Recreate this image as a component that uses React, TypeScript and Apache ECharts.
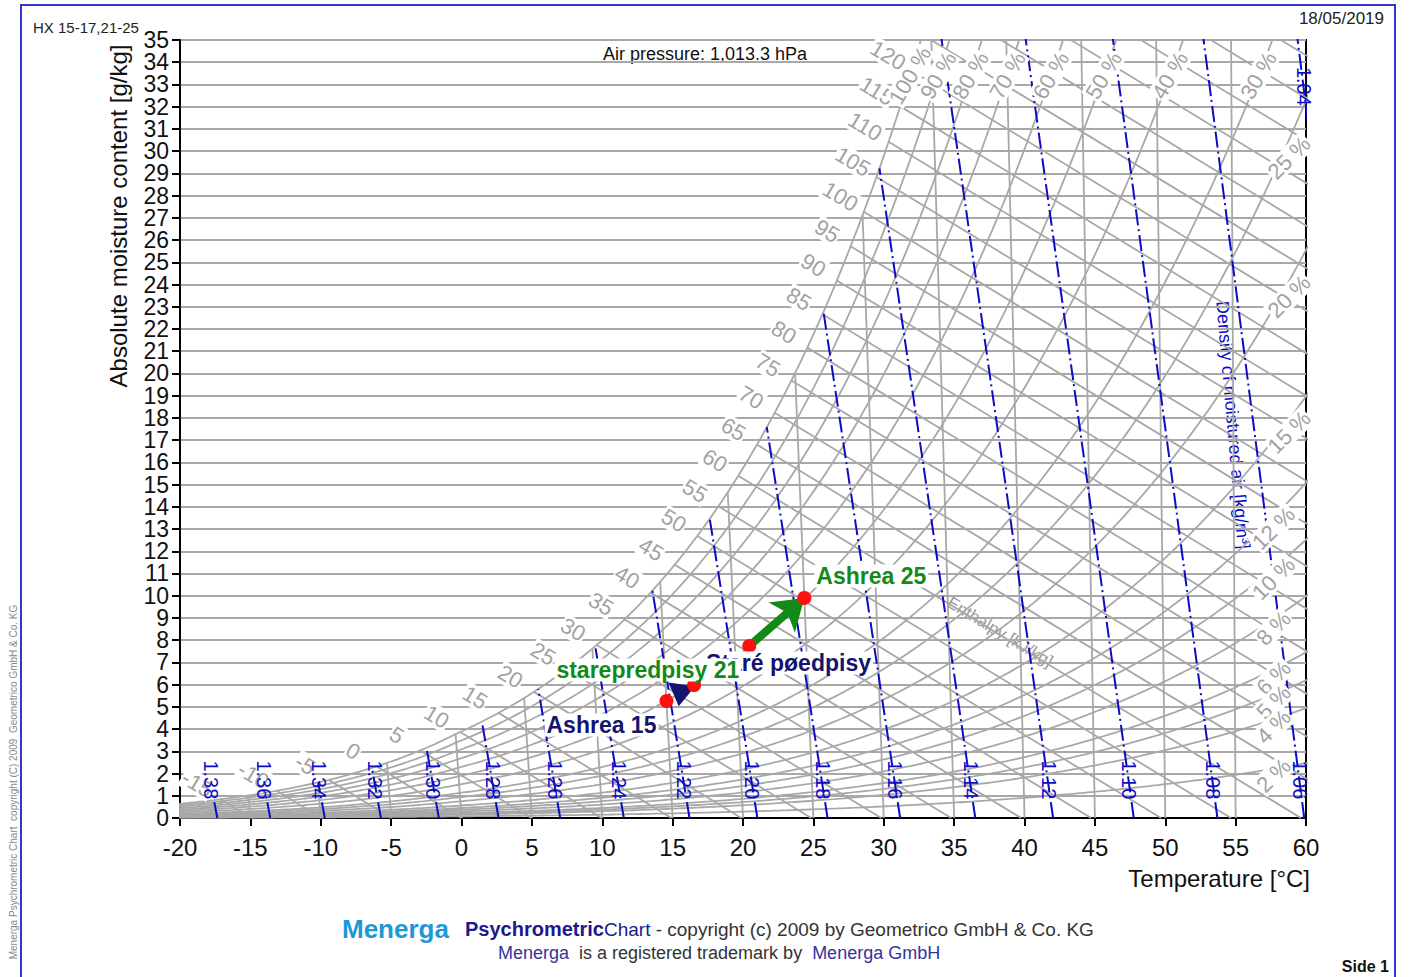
import React, { useEffect, useRef } from "react";
import * as echarts from "echarts";

// ---------------- chart data ----------------
const T_MIN = -20;
const T_MAX = 60;
const T_STEP = 5;
const X_MIN = 0;
const X_MAX = 35;
const X_STEP = 1;
const X_TICKS = [
  0, 1, 2, 3, 4, 5, 6, 7, 8, 9, 10, 11, 12, 13, 14, 15, 16, 17, 18, 19, 20, 21, 22, 23, 24, 25, 26, 27,
  28, 29, 30, 31, 32, 33, 34, 35,
];
const AIR_PRESSURE_HPA = 1013.3;

const RH_CURVES = [2, 4, 5, 6, 8, 10, 12, 15, 20, 25, 30, 40, 50, 60, 70, 80, 90, 100];
const RH_TOP_LABELS = [100, 90, 80, 70, 60, 50, 40, 30];
const RH_SIDE_LABELS = [25, 20, 15, 12, 10, 8, 6, 5, 4, 2];
const ISOTHERMS = [-15, -10, -5, 0, 5, 10, 15, 20, 25, 30, 35, 40, 45, 50, 55];
const ENTHALPY_LINES = [
  -15, -10, -5, 0, 5, 10, 15, 20, 25, 30, 35, 40, 45, 50, 55, 60, 65, 70, 75, 80, 85, 90, 95, 100,
  105, 110, 115, 120, 125, 130, 135, 140, 145, 150,
];
const ENTHALPY_LABELS = [
  -15, -10, -5, 0, 5, 10, 15, 20, 25, 30, 35, 40, 45, 50, 55, 60, 65, 70, 75, 80, 85, 90, 95, 100,
  105, 110, 115, 120,
];
const DENSITY_LINES = [
  1.38, 1.36, 1.34, 1.32, 1.3, 1.28, 1.26, 1.24, 1.22, 1.2, 1.18, 1.16, 1.14, 1.12, 1.1, 1.08, 1.06, 1.04,
];

const STATE_NAMES = ["Ashrea 15", "Staré pøedpisy", "starepredpisy 21", "Ashrea 25"];
const STATE_TEMPERATURES = [15, 17, 21, 25];
const STATE_MOISTURE = [5.26, 5.98, 7.74, 9.9];
const PROCESS_FROM = [1, 2];
const PROCESS_TO = [0, 3];

// ---------------- physics ----------------
const CPA = 1.006;
const CPV = 1.86;
const R0 = 2501;
const SKEW_T = 60; // isotherm drawn vertical in this Mollier-type chart
const RD = 287.05;

function pSat(t: number) {
  return t >= 0
    ? 6.112 * Math.exp((17.62 * t) / (243.12 + t))
    : 6.112 * Math.exp((22.46 * t) / (272.62 + t));
}
function moist(t: number, rh: number) {
  const pw = (rh / 100) * pSat(t);
  return (622 * pw) / (AIR_PRESSURE_HPA - pw);
}
function chartX(t: number, xg: number) {
  return t + ((xg / 1000) * CPV * (t - SKEW_T)) / CPA;
}
function enth(t: number, xg: number) {
  const x = xg / 1000;
  return CPA * t + x * (R0 + CPV * t);
}
function bisect(f: (v: number) => number, a: number, b: number) {
  let fa = f(a);
  for (let i = 0; i < 70; i++) {
    const m = (a + b) / 2;
    const fm = f(m);
    if (fm > 0 === fa > 0) {
      a = m;
      fa = fm;
    } else b = m;
  }
  return (a + b) / 2;
}
function satForEnthalpy(h: number) {
  const t = bisect((v) => enth(v, moist(v, 100)) - h, -45, 70);
  return { t, x: moist(t, 100) };
}
function enthalpyU(h: number, xg: number) {
  return (h - (xg / 1000) * (R0 + CPV * SKEW_T)) / CPA;
}
function densityT(rho: number, xg: number) {
  const x = xg / 1000;
  const T0 = (AIR_PRESSURE_HPA * 100) / (rho * RD);
  return (T0 * (1 + x)) / (1 + 1.6078 * x) - 273.15;
}

// ---------------- styles ----------------
const FONT = "'Liberation Sans', Arial, Helvetica, sans-serif";
const GREY = "#a8a8a8";
const BLUE = "#0c0cc4";
const NAVY = "#14146e";
const GREEN = "#138a17";

function lineSeries(data: number[][], color: string, width: number, type: any = "solid", z = 2) {
  return {
    type: "line",
    data,
    symbol: "none",
    showSymbol: false,
    silent: true,
    clip: true,
    z,
    lineStyle: { color, width, type, opacity: 1 },
    animation: false,
  };
}

function labelSeries(items: any[], label: any, z: number) {
  return {
    type: "scatter",
    symbol: "circle",
    symbolSize: 1,
    silent: true,
    clip: false,
    z,
    itemStyle: { color: "rgba(255,255,255,0)", opacity: 1 },
    data: items,
    label: {
      show: true,
      position: "inside",
      formatter: "{b}",
      fontFamily: FONT,
      opacity: 1,
      textBorderWidth: 0,
      ...label,
    },
    emphasis: { disabled: true },
    animation: false,
  };
}

function buildOption() {
  const series: any[] = [];

  // isotherms
  ISOTHERMS.forEach((t) => {
    const xs = Math.min(moist(t, 100), X_MAX);
    series.push(lineSeries([[t, 0], [chartX(t, xs), xs]], GREY, 1.8));
  });

  // relative humidity curves
  RH_CURVES.forEach((rh) => {
    const pts: number[][] = [];
    for (let t = -24; t <= 80; t += 0.25) {
      const xg = moist(t, rh);
      const u = chartX(t, xg);
      pts.push([u, xg]);
      if (xg > X_MAX + 1 || u > T_MAX + 1) break;
    }
    series.push(lineSeries(pts, GREY, 1.8));
  });

  // enthalpy lines
  ENTHALPY_LINES.forEach((h) => {
    const s = satForEnthalpy(h);
    let xs = s.x;
    let us = chartX(s.t, s.x);
    if (xs > X_MAX) {
      xs = X_MAX;
      us = enthalpyU(h, xs);
    }
    series.push(lineSeries([[us, xs], [enthalpyU(h, 0), 0]], GREY, 1.8));
  });

  // density lines
  DENSITY_LINES.forEach((rho) => {
    const pts: number[][] = [];
    let prev = 0;
    for (let xg = 0; xg <= X_MAX + 1; xg += 0.5) {
      const t = densityT(rho, xg);
      if (xg > moist(t, 100)) {
        const xs = bisect((g) => g - moist(densityT(rho, g), 100), prev, xg);
        pts.push([chartX(densityT(rho, xs), xs), xs]);
        break;
      }
      pts.push([chartX(t, xg), xg]);
      prev = xg;
    }
    series.push(lineSeries(pts, BLUE, 2, [16, 4, 2, 4], 3));
  });

  // y axis tick labels (drawn at the axis through the value scale)
  series.push(
    labelSeries(
      X_TICKS.map((v) => ({ name: String(v), value: [T_MIN, v] })),
      { color: "#111", fontSize: 23, lineHeight: 21, align: "right", verticalAlign: "middle", offset: [-11, 0] },
      4
    )
  );

  // enthalpy labels
  series.push(
    labelSeries(
      ENTHALPY_LABELS.map((h) => {
        const s = satForEnthalpy(h);
        return { name: String(h), value: [chartX(s.t, s.x), s.x] };
      }),
      { color: "#a2a2a2", fontSize: 22, rotate: -31, offset: [-28, -1], backgroundColor: "#fff", padding: [0, 1] },
      5
    )
  );

  // RH labels (top)
  series.push(
    labelSeries(
      RH_TOP_LABELS.map((rh) => {
        const xg = 33.4;
        const t = bisect((v) => moist(v, rh) - xg, -20, 100);
        return { name: rh + " %", value: [chartX(t, xg), xg] };
      }),
      { color: "#a2a2a2", fontSize: 22, rotate: 60, backgroundColor: "#fff", padding: [0, 1] },
      6
    )
  );
  // RH labels (right)
  series.push(
    labelSeries(
      RH_SIDE_LABELS.map((rh) => {
        const u = rh >= 15 ? 58.4 : 57.3;
        const t = bisect((v) => chartX(v, moist(v, rh)) - u, 30, 75);
        const xg = moist(t, rh);
        return { name: rh + " %", value: [u, xg] };
      }),
      { color: "#a2a2a2", fontSize: 22, rotate: 45, offset: [0, 8], backgroundColor: "#fff", padding: [0, 1] },
      6
    )
  );

  // density labels
  series.push(
    labelSeries(
      DENSITY_LINES.map((rho, i) => {
        const xg = i === DENSITY_LINES.length - 1 ? 32.6 : 1.4;
        return { name: rho.toFixed(2), value: [chartX(densityT(rho, xg), xg), xg] };
      }),
      { color: BLUE, fontSize: 20, rotate: -90, offset: [-7, 0] },
      7
    )
  );

  // processes
  const statePts = STATE_NAMES.map((n, i) => ({
    name: n,
    value: [chartX(STATE_TEMPERATURES[i], STATE_MOISTURE[i]), STATE_MOISTURE[i]],
  }));

  // green process: full arrow
  {
    const from = PROCESS_FROM[1];
    const to = PROCESS_TO[1];
    series.push({
      type: "lines",
      coordinateSystem: "cartesian2d",
      silent: true,
      z: 9,
      symbol: ["none", "arrow"],
      symbolSize: 30,
      lineStyle: { color: GREEN, width: 8, opacity: 1, curveness: 0 },
      data: [{ coords: [statePts[from].value, statePts[to].value] }],
      animation: false,
    });
  }
  // navy process: short, drawn as its arrow head between the two states
  {
    const from = PROCESS_FROM[0];
    const to = PROCESS_TO[0];
    const a = statePts[from].value;
    const b = statePts[to].value;
    series.push({
      type: "scatter",
      silent: true,
      z: 9,
      symbol: "triangle",
      symbolSize: [27, 22],
      symbolRotate: 172,
      itemStyle: { color: NAVY, opacity: 1 },
      data: [[(a[0] + b[0]) / 2, (a[1] + b[1]) / 2 - 0.1]],
      emphasis: { disabled: true },
      animation: false,
    });
  }

  // state points
  series.push({
    type: "scatter",
    symbol: "circle",
    symbolSize: 14,
    silent: true,
    z: 12,
    itemStyle: { color: "#ff1010", opacity: 1 },
    data: statePts,
    emphasis: { disabled: true },
    animation: false,
  });
  // state labels: navy ones first, green on top
  const mkLabels = (idx: number[], color: string, z: number) =>
    labelSeries(
      idx.map((i) => ({
        name: STATE_NAMES[i],
        value: statePts[i].value,
        label:
          i % 2 === 0
            ? { align: "right", offset: [-8, 24] }
            : { align: "left", offset: [10, -22] },
      })),
      { color, fontSize: 23, fontWeight: "bold", backgroundColor: "#fff", padding: [0, 2], verticalAlign: "middle" },
      z
    );
  series.push(mkLabels([0, 1], NAVY, 14));
  series.push(mkLabels([2, 3], GREEN, 15));

  const txt = (x: number, y: number, text: string, font: string, fill: string, align = "left", extra: any = {}) => ({
    type: "text",
    x,
    y,
    silent: true,
    ...extra,
    style: {
      text,
      font,
      fill,
      textAlign: align,
      align,
      textVerticalAlign: "middle",
      verticalAlign: "middle",
      ...(extra.style || {}),
    },
  });

  const graphic: any[] = [
    {
      type: "rect",
      shape: { x: 21, y: 5, width: 1374, height: 1010 },
      style: { fill: "none", stroke: "#3434d2", lineWidth: 2 },
      silent: true,
      z: 0,
    },
    txt(33, 27, "HX 15-17,21-25", `15px ${FONT}`, "#222"),
    txt(1384, 18, "18/05/2019", `17px ${FONT}`, "#222", "right"),
    txt(600, 54, "Air pressure: 1,013.3 hPa", `18px ${FONT}`, "#111", "left", {
      style: { backgroundColor: "#fff", padding: [2, 3] },
    }),
    txt(118, 216, "Absolute moisture content [g/kg]", `24px ${FONT}`, "#111", "center", { rotation: Math.PI / 2 }),
    txt(1310, 878, "Temperature [°C]", `24px ${FONT}`, "#111", "right"),
    txt(1000, 632, "Enthalpy [kJ/kg]", `17px ${FONT}`, "#9a9a9a", "center", { rotation: (-31 * Math.PI) / 180 }),
    txt(1233, 425, "Density of moistured air [kg/m³]", `18px ${FONT}`, BLUE, "center", {
      rotation: (-85 * Math.PI) / 180,
    }),
    txt(342, 929, "Menerga", `bold 26px ${FONT}`, "#1e98d5"),
    {
      type: "text",
      x: 465,
      y: 929,
      silent: true,
      style: {
        text: "{b|Psychrometric}{c|Chart}{d| - copyright (c) 2009 by Geometrico GmbH & Co. KG}",
        font: `19px ${FONT}`,
        textVerticalAlign: "middle",
        verticalAlign: "middle",
        rich: {
          b: { font: `bold 20px ${FONT}`, fill: "#1a1a8c" },
          c: { font: `19px ${FONT}`, fill: "#1a1a8c" },
          d: { font: `19px ${FONT}`, fill: "#333" },
        },
      },
    },
    {
      type: "text",
      x: 498,
      y: 953,
      silent: true,
      style: {
        text: "{n|Menerga}{g|  is a registered trademark by  }{n|Menerga GmbH}",
        font: `18px ${FONT}`,
        textVerticalAlign: "middle",
        verticalAlign: "middle",
        rich: {
          n: { font: `18px ${FONT}`, fill: "#34349a" },
          g: { font: `18px ${FONT}`, fill: "#333" },
        },
      },
    },
    txt(1389, 966, "Side 1", `bold 16px ${FONT}`, "#111", "right"),
    txt(13, 782, "Menerga Psychrometric Chart  copyright (C) 2009  Geometrico GmbH & Co. KG", `10px ${FONT}`, "#888", "center", {
      rotation: Math.PI / 2,
    }),
  ];

  return {
    animation: false,
    backgroundColor: "#fff",
    textStyle: { fontFamily: FONT },
    grid: {
      left: 180,
      top: 40,
      width: 1126,
      height: 778,
      show: true,
      borderColor: "#000",
      borderWidth: 2,
      backgroundColor: "transparent",
    },
    xAxis: {
      type: "value",
      min: T_MIN,
      max: T_MAX,
      interval: T_STEP,
      axisLine: { show: true, onZero: false, lineStyle: { color: "#000", width: 2 } },
      axisTick: { show: true, length: 8, lineStyle: { color: "#000", width: 2 } },
      axisLabel: { fontSize: 24, color: "#111", margin: 17, fontFamily: FONT, showMinLabel: true, showMaxLabel: true },
      splitLine: { show: false },
    },
    yAxis: {
      type: "value",
      min: X_MIN,
      max: X_MAX,
      interval: X_STEP,
      axisLine: { show: true, onZero: false, lineStyle: { color: "#000", width: 2 } },
      axisTick: { show: true, length: 8, lineStyle: { color: "#000", width: 2 } },
      axisLabel: { show: false },
      splitLine: { show: true, lineStyle: { color: GREY, width: 2 } },
    },
    series,
    graphic,
  };
}

export default function App() {
  const ref = useRef<HTMLDivElement>(null);
  useEffect(() => {
    const chart = echarts.init(ref.current!, undefined, { renderer: "svg" });
    chart.setOption(buildOption() as any);
    return () => chart.dispose();
  }, []);
  return (
    <div
      ref={ref}
      style={{ position: "fixed", left: 0, top: 0, width: 1409, height: 977, background: "#fff" }}
    />
  );
}
